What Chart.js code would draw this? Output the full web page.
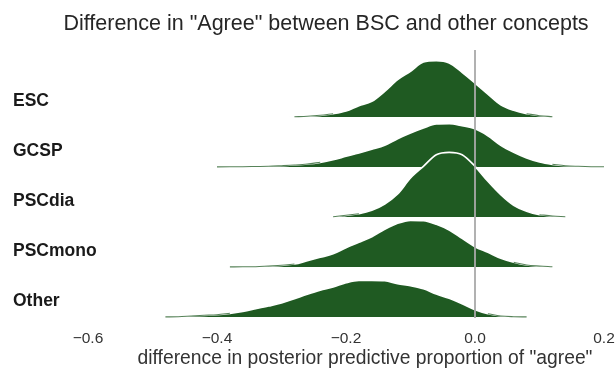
<!DOCTYPE html>
<html>
<head>
<meta charset="utf-8">
<script src="https://cdn.jsdelivr.net/npm/chart.js@4.4.1/dist/chart.umd.min.js"></script>
<style>
  html, body { margin: 0; padding: 0; background: #ffffff; }
  #c { display: block; }
</style>
</head>
<body>
<canvas id="c" width="615" height="369"></canvas>
<script>
// ---------------- data ----------------
const CONCEPTS = ['ESC', 'GCSP', 'PSCdia', 'PSCmono', 'Other'];

// difference values (x grid of the density estimates)
const DIFF = [-0.50, -0.48, -0.46, -0.44, -0.42, -0.40, -0.38, -0.36, -0.34, -0.32,
              -0.30, -0.28, -0.26, -0.24, -0.22, -0.20, -0.18, -0.16, -0.14, -0.12,
              -0.10, -0.08, -0.06, -0.04, -0.02, 0.00, 0.02, 0.04, 0.06, 0.08,
              0.10, 0.12, 0.14, 0.16, 0.18, 0.20, 0.22];

// posterior densities
const ESC = [0, 0, 0, 0, 0, 0, 0, 0, 0, 0,
             0, 0.03, 0.07, 0.17, 0.33, 0.60, 1.13, 1.57, 2.57, 3.73,
             4.57, 5.50, 5.63, 5.40, 4.47, 3.40, 2.30, 1.23, 0.67, 0.33,
             0.13, 0.03, 0, 0, 0, 0, 0];
const GCSP = [0, 0, 0, 0, 0, 0.01, 0.02, 0.03, 0.05, 0.07,
              0.13, 0.20, 0.30, 0.47, 0.73, 1.07, 1.40, 1.77, 2.17, 2.83,
              3.40, 3.90, 4.30, 4.33, 4.13, 3.83, 3.13, 2.17, 1.47, 0.90,
              0.50, 0.27, 0.13, 0.07, 0.03, 0.02, 0];
const PSCdia = [0, 0, 0, 0, 0, 0, 0, 0, 0, 0,
                0, 0, 0, 0, 0.03, 0.17, 0.33, 0.67, 1.30, 2.30,
                3.90, 5.07, 6.23, 6.47, 6.23, 5.07, 3.57, 2.23, 1.17, 0.57,
                0.23, 0.10, 0.03, 0, 0, 0, 0];
const PSCmono = [0, 0, 0, 0, 0, 0, 0.01, 0.02, 0.03, 0.10,
                 0.17, 0.30, 0.63, 0.97, 1.33, 1.93, 2.47, 3.03, 3.77, 4.37,
                 4.67, 4.63, 4.27, 3.70, 2.87, 2.03, 1.47, 0.87, 0.47, 0.20,
                 0.10, 0.03, 0, 0, 0, 0, 0];
const Other = [0, 0.01, 0.03, 0.10, 0.17, 0.23, 0.37, 0.57, 0.83, 1.10,
               1.40, 1.83, 2.27, 2.67, 3.00, 3.43, 3.67, 3.67, 3.63, 3.33,
               3.13, 2.83, 2.30, 1.87, 1.33, 0.73, 0.33, 0.10, 0.03, 0.01,
               0, 0, 0, 0, 0, 0, 0];

const TICK_VALUES = [-0.6, -0.4, -0.2, 0.0, 0.2];
const TICK_LABELS = ['\u22120.6', '\u22120.4', '\u22120.2', '0.0', '0.2'];

const TITLE = 'Difference in "Agree" between BSC and other concepts';
const X_TITLE = 'difference in posterior predictive proportion of "agree"';

// ---------------- styling / layout ----------------
const DENSITIES = { ESC, GCSP, PSCdia, PSCmono, Other };
const ROW_GAP = 5;
const TAIL_LIMIT = 0.5;
const GREEN = '#1f5a22';
const TAIL_GREEN = 'rgba(31,90,34,0.75)';
const FONT = '"Liberation Sans", Arial, Helvetica, sans-serif';

const datasets = [];
CONCEPTS.forEach((name, i) => {
  const base = (CONCEPTS.length - 1 - i) * ROW_GAP;
  const dens = DENSITIES[name];
  // filled ridge with a white outline
  datasets.push({
    label: name,
    isRidge: true,
    baseValue: base,
    data: DIFF.map((x, j) => ({ x: x, y: base + dens[j] })),
    fill: { value: base },
    backgroundColor: GREEN,
    borderColor: '#ffffff',
    borderWidth: 1.7,
    pointRadius: 0,
    cubicInterpolationMode: 'monotone',
    clip: false,
    order: 20 - 2 * i
  });
  // thin tails of the same density (drawn over the outline)
  datasets.push({
    label: name + ' tails',
    isRidge: false,
    data: DIFF.map((x, j) => (dens[j] > 0 && dens[j] < TAIL_LIMIT ? { x: x, y: base + dens[j] } : { x: x, y: null })),
    fill: false,
    spanGaps: false,
    borderColor: TAIL_GREEN,
    borderWidth: 1.1,
    pointRadius: 0,
    cubicInterpolationMode: 'monotone',
    clip: false,
    order: 19 - 2 * i
  });
});

const textPlugin = {
  id: 'texts',
  afterDraw(chart) {
    const ctx = chart.ctx;
    const ys = chart.scales.y;
    ctx.save();
    ctx.textBaseline = 'middle';
    // main title
    ctx.font = '21.5px ' + FONT;
    ctx.fillStyle = '#262626';
    ctx.textAlign = 'center';
    ctx.fillText(TITLE, 326, 24);
    // x axis title
    ctx.font = '19.3px ' + FONT;
    ctx.fillStyle = '#333333';
    ctx.fillText(X_TITLE, 365, 359);
    // row labels
    ctx.font = 'bold 17.5px ' + FONT;
    ctx.fillStyle = '#1a1a1a';
    ctx.textAlign = 'left';
    chart.data.datasets.filter(ds => ds.isRidge).forEach(ds => {
      ctx.fillText(ds.label, 13, ys.getPixelForValue(ds.baseValue) - 15.5);
    });
    ctx.restore();
  }
};

const zeroLine = {
  id: 'zeroLine',
  afterDatasetsDraw(chart) {
    const ctx = chart.ctx;
    const x = chart.scales.x.getPixelForValue(0);
    const a = chart.chartArea;
    ctx.save();
    ctx.strokeStyle = '#a9a9a9';
    ctx.lineWidth = 1.8;
    ctx.beginPath();
    ctx.moveTo(x, a.top);
    ctx.lineTo(x, a.bottom);
    ctx.stroke();
    ctx.restore();
  }
};

new Chart(document.getElementById('c'), {
  type: 'line',
  data: { datasets },
  options: {
    responsive: false,
    animation: false,
    devicePixelRatio: 1,
    layout: { padding: { left: 88, right: 11, top: 50, bottom: 0 } },
    plugins: {
      legend: { display: false },
      tooltip: { enabled: false },
      title: { display: false }
    },
    scales: {
      x: {
        type: 'linear',
        min: -0.6,
        max: 0.2,
        afterBuildTicks(scale) {
          scale.ticks = TICK_VALUES.map(v => ({ value: v }));
        },
        afterFit(scale) {
          scale.height = 51;
          scale.paddingLeft = 0;
          scale.paddingRight = 0;
        },
        grid: { display: false, drawTicks: false },
        border: { display: false },
        ticks: {
          color: '#333333',
          font: { family: FONT, size: 15.5 },
          padding: 11,
          maxRotation: 0,
          autoSkip: false,
          callback: (v) => TICK_LABELS[TICK_VALUES.findIndex(t => Math.abs(t - v) < 1e-9)]
        },
        title: { display: false, text: X_TITLE }
      },
      y: {
        type: 'linear',
        display: false,
        min: -0.1,
        max: 26.7
      }
    }
  },
  plugins: [textPlugin, zeroLine]
});
</script>
</body>
</html>
